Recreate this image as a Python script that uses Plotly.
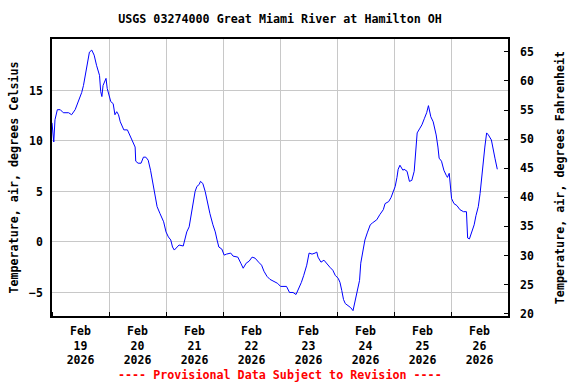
import plotly.graph_objects as go

times = [
    "2026-02-19 00:00", "2026-02-19 00:45", "2026-02-19 01:15", "2026-02-19 02:15", "2026-02-19 03:30",
    "2026-02-19 04:45", "2026-02-19 07:00", "2026-02-19 08:15", "2026-02-19 09:45", "2026-02-19 11:00",
    "2026-02-19 12:30", "2026-02-19 13:15", "2026-02-19 14:00", "2026-02-19 14:45", "2026-02-19 15:45",
    "2026-02-19 16:45", "2026-02-19 17:45", "2026-02-19 18:45", "2026-02-19 20:00", "2026-02-19 20:30",
    "2026-02-19 21:00", "2026-02-19 21:30", "2026-02-19 22:45", "2026-02-19 23:15", "2026-02-20 00:15",
    "2026-02-20 00:45", "2026-02-20 01:45", "2026-02-20 02:30", "2026-02-20 03:15", "2026-02-20 04:00",
    "2026-02-20 04:45", "2026-02-20 06:15", "2026-02-20 07:45", "2026-02-20 08:45", "2026-02-20 10:15",
    "2026-02-20 11:00", "2026-02-20 11:15", "2026-02-20 12:15", "2026-02-20 13:30", "2026-02-20 14:30",
    "2026-02-20 15:30", "2026-02-20 16:30", "2026-02-20 17:30", "2026-02-20 18:30", "2026-02-20 19:30",
    "2026-02-20 20:15", "2026-02-20 21:30", "2026-02-20 23:00", "2026-02-21 00:00", "2026-02-21 01:00",
    "2026-02-21 02:00", "2026-02-21 02:45", "2026-02-21 03:30", "2026-02-21 04:30", "2026-02-21 05:30",
    "2026-02-21 07:15", "2026-02-21 08:00", "2026-02-21 08:45", "2026-02-21 09:45", "2026-02-21 10:30",
    "2026-02-21 11:15", "2026-02-21 12:15", "2026-02-21 13:00", "2026-02-21 14:00", "2026-02-21 14:30",
    "2026-02-21 15:30", "2026-02-21 16:30", "2026-02-21 17:30", "2026-02-21 18:30", "2026-02-21 19:45",
    "2026-02-21 20:45", "2026-02-21 21:30", "2026-02-21 22:15", "2026-02-21 23:30", "2026-02-22 00:30",
    "2026-02-22 01:30", "2026-02-22 03:15", "2026-02-22 04:15", "2026-02-22 06:15", "2026-02-22 07:30",
    "2026-02-22 08:30", "2026-02-22 09:45", "2026-02-22 11:00", "2026-02-22 12:15", "2026-02-22 13:30",
    "2026-02-22 15:00", "2026-02-22 16:15", "2026-02-22 17:15", "2026-02-22 18:30", "2026-02-22 19:45",
    "2026-02-22 21:30", "2026-02-22 23:00", "2026-02-23 00:15", "2026-02-23 01:30", "2026-02-23 02:45",
    "2026-02-23 04:00", "2026-02-23 05:30", "2026-02-23 06:45", "2026-02-23 08:00", "2026-02-23 09:00",
    "2026-02-23 10:00", "2026-02-23 11:15", "2026-02-23 12:15", "2026-02-23 13:30", "2026-02-23 14:45",
    "2026-02-23 15:30", "2026-02-23 16:00", "2026-02-23 17:15", "2026-02-23 18:30", "2026-02-23 19:45",
    "2026-02-23 21:00", "2026-02-23 22:15", "2026-02-23 23:15", "2026-02-24 00:30", "2026-02-24 01:15",
    "2026-02-24 02:00", "2026-02-24 02:45", "2026-02-24 03:30", "2026-02-24 04:45", "2026-02-24 05:45",
    "2026-02-24 06:45", "2026-02-24 07:30", "2026-02-24 08:30", "2026-02-24 09:30", "2026-02-24 10:00",
    "2026-02-24 11:00", "2026-02-24 11:45", "2026-02-24 12:45", "2026-02-24 14:00", "2026-02-24 15:00",
    "2026-02-24 16:45", "2026-02-24 18:00", "2026-02-24 19:30", "2026-02-24 20:15", "2026-02-24 21:45",
    "2026-02-24 22:45", "2026-02-24 23:45", "2026-02-25 00:30", "2026-02-25 01:15", "2026-02-25 01:45",
    "2026-02-25 02:30", "2026-02-25 03:45", "2026-02-25 04:15", "2026-02-25 05:30", "2026-02-25 06:30",
    "2026-02-25 07:30", "2026-02-25 08:30", "2026-02-25 09:15", "2026-02-25 09:45", "2026-02-25 10:45",
    "2026-02-25 11:45", "2026-02-25 12:45", "2026-02-25 13:45", "2026-02-25 14:30", "2026-02-25 15:30",
    "2026-02-25 16:30", "2026-02-25 17:45", "2026-02-25 18:30", "2026-02-25 19:00", "2026-02-25 20:00",
    "2026-02-25 21:00", "2026-02-25 22:00", "2026-02-25 22:30", "2026-02-25 23:15", "2026-02-25 23:45",
    "2026-02-26 00:15", "2026-02-26 01:15", "2026-02-26 02:30", "2026-02-26 03:45", "2026-02-26 05:15",
    "2026-02-26 06:30", "2026-02-26 07:00", "2026-02-26 07:45", "2026-02-26 08:45", "2026-02-26 09:45",
    "2026-02-26 10:30", "2026-02-26 11:30", "2026-02-26 12:15", "2026-02-26 13:00", "2026-02-26 13:45",
    "2026-02-26 14:15", "2026-02-26 15:00", "2026-02-26 15:45", "2026-02-26 17:00", "2026-02-26 17:45",
    "2026-02-26 18:30", "2026-02-26 19:30",
]

temp_c = [
    11.8, 9.9, 12.1, 13.1, 13.1,
    12.8, 12.8, 12.6, 13.1, 13.9,
    14.8, 15.5, 16.5, 17.7, 18.8,
    19.0, 18.5, 17.5, 16.5, 14.9,
    14.4, 15.5, 16.2, 15.2, 14.4,
    13.9, 13.7, 12.6, 12.9, 12.6,
    11.9, 11.1, 11.1, 10.6, 9.9,
    9.4, 8.0, 7.8, 7.8, 8.4,
    8.4, 8.1, 7.1, 5.8, 4.5,
    3.5, 2.8, 2.0, 1.0, 0.5,
    0.2, -0.5, -0.8, -0.5, -0.3,
    -0.4, 0.4, 1.0, 1.5, 2.5,
    3.8, 5.0, 5.5, 5.7, 6.0,
    5.8, 5.0, 3.7, 2.8, 1.7,
    1.0, 0.2, -0.5, -0.7, -1.3,
    -1.2, -1.1, -1.4, -1.5, -2.1,
    -2.6, -2.1, -1.9, -1.5, -1.6,
    -2.0, -2.3, -2.9, -3.4, -3.7,
    -3.9, -4.1, -4.4, -4.4, -4.4,
    -5.0, -5.0, -5.2, -4.6, -4.0,
    -3.3, -2.3, -1.1, -1.2, -1.1,
    -1.0, -1.5, -2.0, -1.8, -2.2,
    -2.5, -2.8, -3.3, -3.6, -4.0,
    -4.8, -5.7, -6.1, -6.3, -6.5,
    -6.8, -6.0, -5.1, -3.8, -2.1,
    -0.6, 0.2, 0.9, 1.7, 1.9,
    2.2, 2.7, 3.2, 3.8, 4.0,
    4.4, 5.0, 5.5, 6.4, 7.2,
    7.6, 7.1, 7.2, 7.0, 6.0,
    6.1, 7.0, 9.4, 10.8, 11.2,
    11.6, 12.2, 12.8, 13.5, 12.4,
    11.9, 10.6, 9.4, 8.3, 8.0,
    7.1, 6.6, 6.4, 6.8, 5.5,
    4.3, 3.8, 3.6, 3.2, 3.0,
    3.0, 0.4, 0.3, 0.9, 1.7,
    2.6, 3.5, 4.8, 6.8, 8.6,
    9.4, 10.8, 10.6, 10.1, 9.1,
    8.3, 7.2,
]

day_label_times = ["2026-02-19 12:00", "2026-02-20 12:00", "2026-02-21 12:00", "2026-02-22 12:00",
                   "2026-02-23 12:00", "2026-02-24 12:00", "2026-02-25 12:00", "2026-02-26 12:00"]
day_labels = ["Feb<br>19<br>2026", "Feb<br>20<br>2026", "Feb<br>21<br>2026", "Feb<br>22<br>2026",
              "Feb<br>23<br>2026", "Feb<br>24<br>2026", "Feb<br>25<br>2026", "Feb<br>26<br>2026"]
c_ticks = [-5, 0, 5, 10, 15]
f_ticks = [20, 25, 30, 35, 40, 45, 50, 55, 60, 65]

FONT = "DejaVu Sans Mono"
bold = dict(family=FONT, size=11.7, color="black", weight="bold")
tickf = dict(family=FONT, size=11.5, color="black", weight="bold")

fig = go.Figure()
fig.add_trace(go.Scatter(x=times, y=temp_c, mode="lines",
                         line=dict(color="#0000FF", width=1), showlegend=False, hoverinfo="skip"))
# invisible trace to activate the Fahrenheit axis
fig.add_trace(go.Scatter(x=[times[0]], y=[None], yaxis="y2", showlegend=False, hoverinfo="skip"))

fig.update_layout(
    width=576, height=384,
    margin=dict(l=52, r=68, t=39, b=68, autoexpand=False),
    paper_bgcolor="white", plot_bgcolor="white",
    title=dict(text="USGS 03274000 Great Miami River at Hamilton OH", font=bold,
               x=0.5, xanchor="center", y=1 - 19 / 384, yanchor="middle", xref="paper"),
    xaxis=dict(
        type="date", range=["2026-02-19 00:00", "2026-02-27 00:00"], automargin=False,
        tickmode="array", tickvals=day_label_times, ticktext=day_labels,
        showgrid=False, ticks="", tickfont=tickf, ticklabelstandoff=3,
        showline=True, linecolor="black", linewidth=1.5, mirror=True,
        minor=dict(dtick=86400000, tick0="2026-02-19", showgrid=True, gridcolor="#c8c8c8",
                   gridwidth=1, ticks="inside", ticklen=4, tickcolor="black"),
        zeroline=False,
    ),
    yaxis=dict(
        range=[-7.33, 20.1], tickmode="array", tickvals=c_ticks, automargin=False,
        showgrid=True, gridcolor="#c8c8c8", gridwidth=1, zeroline=False,
        ticks="", tickfont=tickf, ticklabelstandoff=5,
        showline=True, linecolor="black", linewidth=1.5, mirror=True,
        title=dict(text="Temperature, air, degrees Celsius", font=bold, standoff=8),
    ),
    yaxis2=dict(
        overlaying="y", side="right", range=[19.6, 67.2], tickmode="array", tickvals=f_ticks,
        automargin=False,
        showgrid=False, zeroline=False, ticks="inside", ticklen=4, tickcolor="black",
        tickfont=tickf, ticklabelstandoff=11,
        title=dict(text="Temperature, air, degrees Fahrenheit", font=bold, standoff=22),
    ),
    annotations=[dict(text="---- Provisional Data Subject to Revision ----", xref="paper", yref="paper",
                      x=0.5, y=(316 - 375) / 277, xanchor="center", yanchor="middle",
                      showarrow=False, font=dict(family=FONT, size=11.7, color="red", weight="bold"))],
)

fig.write_html("out.html", config={"displayModeBar": False},
               post_script="document.body.style.margin='0';document.body.style.padding='0';")
